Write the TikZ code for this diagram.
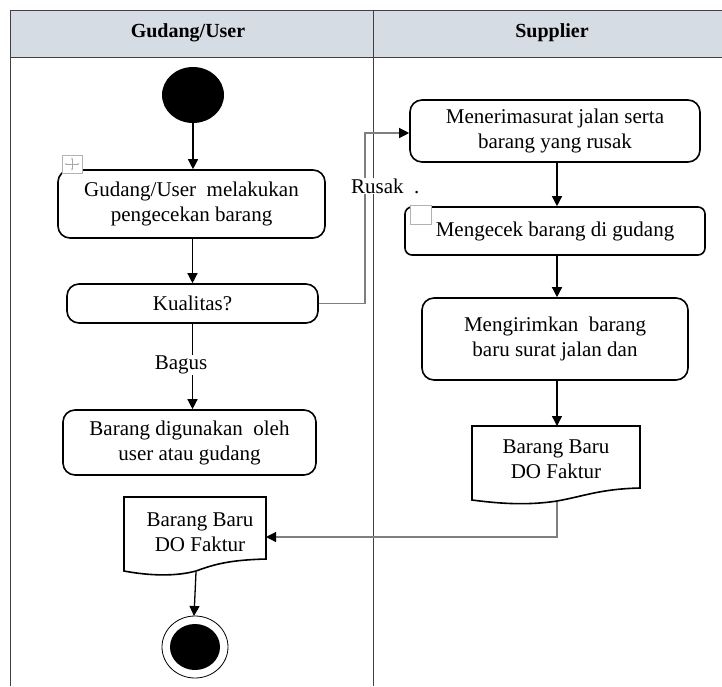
\documentclass[tikz,border=0pt]{standalone}
\usepackage{fontspec}
\setmainfont{Liberation Serif}
\usetikzlibrary{arrows.meta,calc}
\definecolor{headfill}{HTML}{D6DCE4}
\definecolor{linkgray}{HTML}{7F7F7F}
\tikzset{
  txt/.style={font=\fontsize{21}{25}\selectfont, align=center},
  actbox/.style={txt, draw, line width=1.6pt, rounded corners=12pt, inner sep=0pt},
  flow/.style={draw, line width=1.3pt, -{Triangle[length=10pt,width=10pt]}},
  link/.style={draw=linkgray, line width=1.2pt, -{Triangle[length=10pt,width=10pt,fill=black,color=black]}},
  laneline/.style={draw=black!75, line width=1pt},
  docshape/.style={draw, line width=1.6pt, fill=white},
  handle/.style={draw=gray!60, line width=0.8pt, fill=white},
  lanehead/.style={font=\fontsize{20}{24}\selectfont\bfseries},
}
\begin{document}
\begin{tikzpicture}[x=1pt,y=-1pt]
\useasboundingbox (0,0) rectangle (722,686);

% swimlane frame and header band
\fill[headfill] (10,10) rectangle (722,57);
\draw[laneline] (10,686) -- (10,10) -- (722,10);
\draw[laneline] (10,57) -- (722,57);
\draw[laneline] (373,10) -- (373,686);
\node[lanehead] (laneA) at (188,33) {Gudang/User};
\node[lanehead] (laneB) at (552,33) {Supplier};

% Gudang/User lane
\fill (193,95) ellipse [x radius=31, y radius=28];
\coordinate (start) at (193,123);
\node[actbox, minimum width=267, minimum height=68] (cek) at (191.5,204)
  {Gudang/User\enspace melakukan\\pengecekan barang};
\node[actbox, minimum width=251, minimum height=39] (kual) at (192.5,303.5) {Kualitas?};
\node[actbox, minimum width=253, minimum height=65] (pakai) at (189.5,442.5)
  {Barang digunakan\enspace oleh\\user atau gudang};

% delivered document in Gudang/User lane
\draw[docshape] (124,497) -- (266,497) -- (266,559)
  .. controls (230,560) and (215,564) .. (196,571)
  .. controls (170,578) and (140,574) .. (124,571) -- cycle;
\node[txt] (docA) at (200,532) {Barang Baru\\DO Faktur};
\coordinate (docAin) at (266,537);
\coordinate (docAout) at (196,572);

% final node
\draw[line width=0.8pt, fill=white] (195,647) ellipse [x radius=33, y radius=31];
\fill (195,647) ellipse [x radius=25, y radius=23];
\coordinate (finish) at (194,616);

% Supplier lane
\node[actbox, minimum width=290, minimum height=62] (terima) at (555,131)
  {Menerimasurat jalan serta\\barang yang rusak};
\node[actbox, rounded corners=7pt, minimum width=300, minimum height=48] (gudang) at (555,231)
  {Mengecek barang di gudang};
\node[actbox, minimum width=266, minimum height=82] (kirim) at (555,339)
  {Mengirimkan\enspace barang\\baru surat jalan dan};
\draw[docshape] (472,426) -- (640,426) -- (640,488)
  .. controls (600,489) and (585,496) .. (557,501)
  .. controls (525,506) and (495,503) .. (472,500) -- cycle;
\node[txt] (docB) at (556,459) {Barang Baru\\DO Faktur};
\coordinate (docBin) at (557,426);
\coordinate (docBout) at (557,502);

% small editor handles
\draw[handle] (62,155) rectangle (82,173);
\begin{scope}[gray!70, line width=0.6pt, -{Stealth[length=2pt]}]
  \draw (72,164) -- (72,157.5); \draw (72,164) -- (72,170.5);
  \draw (72,164) -- (64.5,164); \draw (72,164) -- (79.5,164);
\end{scope}
\draw[handle] (410,205) rectangle (431,224);

% control flow
\draw[flow] (start) -- (start |- cek.north);
\draw[flow] (cek.south -| kual.north) -- (kual.north);
\draw[flow] (kual.south) -- (kual.south |- pakai.north);
\node[txt, fill=white, inner sep=1pt] (bagus) at (181,365) {Bagus};
\draw[link] (kual.east) -- (365,303.5) -- (365,133) -- (terima.west |- 365,133);
\node[txt, fill=white, inner sep=1pt, anchor=west] (rusak) at (350,186) {Rusak\enspace.};
\draw[flow] (terima.south -| docBin) -- (gudang.north -| docBin);
\draw[flow] (gudang.south -| docBin) -- (kirim.north -| docBin);
\draw[flow] (kirim.south -| docBin) -- (docBin);
\draw[link] (docBout) -- (557,537) -- (docAin);
\draw[flow] (docAout) -- (finish);
\end{tikzpicture}
\end{document}
